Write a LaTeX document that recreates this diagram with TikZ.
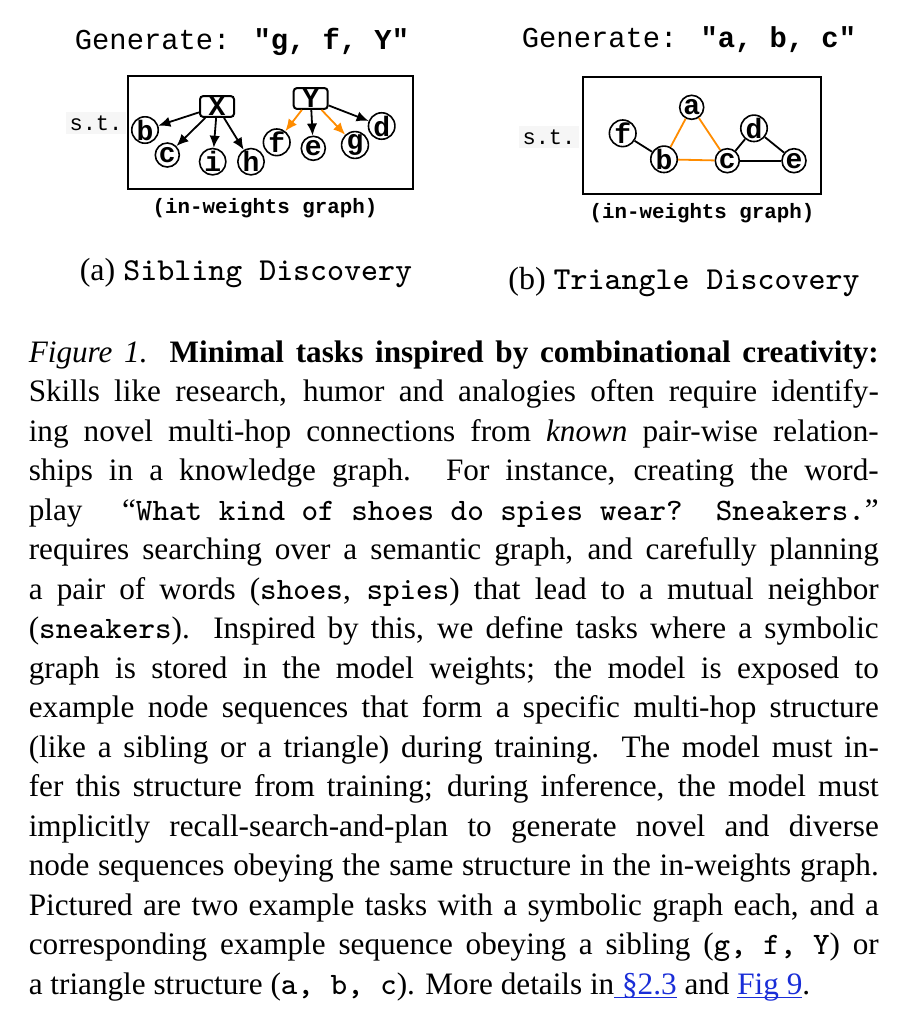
\documentclass[tikz,border=0pt]{standalone}
\usepackage{fontspec}
\setmainfont{Liberation Serif}
\newfontfamily\courier{Liberation Mono}
\usepackage{xcolor}
\usetikzlibrary{arrows.meta, positioning}
\definecolor{colHop}{RGB}{255,140,0}
\definecolor{colLink}{RGB}{25,45,215}
\definecolor{colShade}{RGB}{246,246,246}
\newcommand{\linkref}[1]{\textcolor{colLink}{\setbox0=\hbox{#1}\rlap{\rule[-1pt]{\wd0}{0.35pt}}\box0}}
\tikzset{
  leaf/.style={
    draw, circle, line width=0.4pt, inner sep=0pt, minimum size=6pt,
    font=\courier\bfseries\fontsize{7}{7}\selectfont
  },
  hub/.style={
    draw, rectangle, rounded corners=0.8pt, line width=0.5pt, inner sep=0pt,
    minimum width=8.5pt, minimum height=5.2pt,
    font=\courier\bfseries\fontsize{7}{7}\selectfont
  },
  graphbox/.style={draw, rectangle, line width=0.5pt, inner sep=0pt},
  edgearr/.style={-{Latex[length=3pt,width=2.6pt]}, line width=0.45pt},
  hoparr/.style={edgearr, draw=colHop},
  edgeline/.style={line width=0.45pt},
  hopline/.style={edgeline, draw=colHop},
  gentext/.style={font=\courier\fontsize{7.2}{7.2}\selectfont, inner sep=0pt},
  sttext/.style={font=\courier\fontsize{5.5}{5.5}\selectfont, fill=colShade, inner sep=1pt},
  graphnote/.style={font=\courier\bfseries\fontsize{5.2}{5.2}\selectfont, inner sep=0pt},
  subcap/.style={font=\fontsize{8}{8}\selectfont, inner sep=0pt},
  captext/.style={
    text width=212.5pt, align=justify, inner sep=0pt,
    font=\fontsize{7.8}{9.875}\selectfont
  },
}

\begin{document}
\begin{tikzpicture}[x=0.25pt, y=-0.25pt]
\useasboundingbox (0,0) rectangle (918,1018);

% ── (a) Sibling Discovery ──────────────────────────────────────────────────
\node[gentext] (genA) at (242,42) {Generate: \textbf{"g, f, Y"}};
\node[graphbox, minimum width=71.25pt, minimum height=28.25pt] (boxA) at (270.5,132.5) {};
\node[sttext] (stA) at (96,123) {s.t.};

\node[hub]  (hubX) at (217,106.5) {X};
\node[hub]  (hubY) at (310.7,98.5) {Y};
\node[leaf] (sb) at (145,130) {b};
\node[leaf] (sc) at (167.3,155) {c};
\node[leaf] (si) at (212.7,161.7) {i};
\node[leaf] (sh) at (251,161.7) {h};
\node[leaf] (sf) at (276.7,142.3) {f};
\node[leaf] (se) at (313.3,148.3) {e};
\node[leaf] (sg) at (355,145) {g};
\node[leaf] (sd) at (381.7,126) {d};

% X's children
\draw[edgearr] (hubX) -- (sb);
\draw[edgearr] (hubX) -- (sc);
\draw[edgearr] (hubX) -- (si);
\draw[edgearr] (hubX) -- (sh);

% Y's children (siblings g, f in orange)
\draw[hoparr]  (hubY) -- (sf);
\draw[edgearr] (hubY) -- (se);
\draw[hoparr]  (hubY) -- (sg);
\draw[edgearr] (hubY) -- (sd);

\node[graphnote] (noteA) at (265,208) {(in-weights graph)};
\node[subcap] (capA) at (246,273) {(a)~\texttt{Sibling Discovery}};

% ── (b) Triangle Discovery ─────────────────────────────────────────────────
\node[gentext] (genB) at (689,40) {Generate: \textbf{"a, b, c"}};
\node[graphbox, minimum width=59.35pt, minimum height=29.2pt] (boxB) at (702,135.6) {};
\node[sttext] (stB) at (549,137) {s.t.};

\node[leaf] (ta) at (691.7,107.3) {a};
\node[leaf] (tf) at (622.7,133.3) {f};
\node[leaf] (tb) at (664,159.3) {b};
\node[leaf] (tc) at (727.3,160.7) {c};
\node[leaf] (td) at (754,128.3) {d};
\node[leaf] (te) at (794,160.7) {e};

\draw[edgeline] (tf) -- (tb);
\draw[hopline]  (ta) -- (tb);
\draw[hopline]  (ta) -- (tc);
\draw[hopline]  (tb) -- (tc);
\draw[edgeline] (tc) -- (td);
\draw[edgeline] (td) -- (te);
\draw[edgeline] (tc) -- (te);

\node[graphnote] (noteB) at (702,213) {(in-weights graph)};
\node[subcap] (capB) at (684,282) {(b)~\texttt{Triangle Discovery}};

% ── Caption ────────────────────────────────────────────────────────────────
\node[captext, anchor=base west] (cap) at (28,362) {%
\tolerance=10000\hyphenpenalty=10000%
\textit{Figure 1.} \textbf{Minimal tasks inspired by combinational creativity:}\linebreak
Skills like research, humor and analogies often require identify-\linebreak
ing novel multi-hop connections from \textit{known} pair-wise relation-\linebreak
ships in a knowledge graph.  For instance, creating the word-\linebreak
play ``\texttt{What kind of shoes do spies wear?~~Sneakers.}''\linebreak
requires searching over a semantic graph, and carefully planning\linebreak
a pair of words (\texttt{shoes}, \texttt{spies}) that lead to a mutual neighbor\linebreak
(\texttt{sneakers}). Inspired by this, we define tasks where a symbolic\linebreak
graph is stored in the model weights; the model is exposed to\linebreak
example node sequences that form a specific multi-hop structure\linebreak
(like a sibling or a triangle) during training. The model must in-\linebreak
fer this structure from training; during inference, the model must\linebreak
implicitly recall-search-and-plan to generate novel and diverse\linebreak
node sequences obeying the same structure in the in-weights graph.\linebreak
Pictured are two example tasks with a symbolic graph each, and a\linebreak
corresponding example sequence obeying a sibling (\texttt{g, f, Y}) or\linebreak
a triangle structure (\texttt{a, b, c}). More details in\linkref{ §2.3} and \linkref{Fig 9}.};

\end{tikzpicture}
\end{document}
